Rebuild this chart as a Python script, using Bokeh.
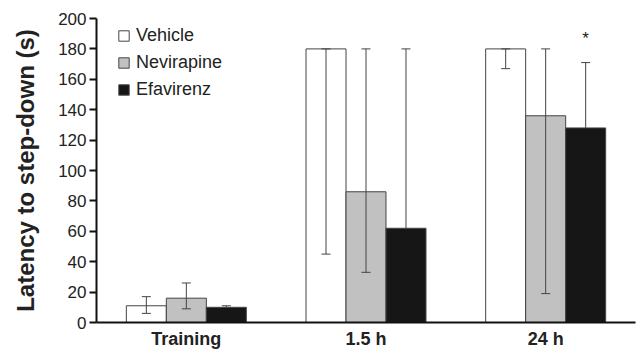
from bokeh.plotting import figure
from bokeh.models import (ColumnDataSource, FactorRange, Whisker, TeeHead,
                          Legend, LegendItem, FixedTicker)
from bokeh.transform import dodge
from bokeh.core.properties import value
from bokeh.embed import file_html
from bokeh.resources import INLINE

# ---- data ----
groups = ["Training", "1.5 h", "24 h"]
vehicle = [11, 180, 180]
vehicle_lo = [6, 45, 167]
vehicle_hi = [17, 180, 180]
nevirapine = [16, 86, 136]
nevirapine_lo = [9, 33, 19]
nevirapine_hi = [26, 180, 180]
efavirenz = [10, 62, 128]
efavirenz_lo = [10, 62, 128]
efavirenz_hi = [11, 180, 171]
y_ticks = [0, 20, 40, 60, 80, 100, 120, 140, 160, 180, 200]
star_groups = ["24 h"]
star_y = [187]
star_text = ["*"]

FONT = "Liberation Sans"
BW = 0.2226

src = ColumnDataSource(dict(
    group=groups,
    vehicle=vehicle, vehicle_lo=vehicle_lo, vehicle_hi=vehicle_hi,
    nevirapine=nevirapine, nevirapine_lo=nevirapine_lo, nevirapine_hi=nevirapine_hi,
    efavirenz=efavirenz, efavirenz_lo=efavirenz_lo, efavirenz_hi=efavirenz_hi,
))
star_src = ColumnDataSource(dict(group=star_groups, y=star_y, text=star_text))

p = figure(x_range=FactorRange(*groups), y_range=(0, 200),
           width=636, height=351, output_backend="svg", toolbar_location=None,
           min_border_left=96, min_border_right=1, min_border_top=18,
           min_border_bottom=28)
p.outline_line_color = None
p.xgrid.grid_line_color = None
p.ygrid.grid_line_color = None
p.background_fill_color = "white"
p.border_fill_color = "white"

series = [
    ("Vehicle", "vehicle", -BW, "white"),
    ("Nevirapine", "nevirapine", 0.0, "#c0c1c0"),
    ("Efavirenz", "efavirenz", BW, "#161616"),
]
items = []
for label, key, off, color in series:
    r = p.vbar(x=dodge("group", off, range=p.x_range), top=key, width=BW,
               source=src, fill_color=color, line_color="#444444", line_width=1)
    items.append(LegendItem(label=label, renderers=[r]))

for label, key, off, color in series:
    lower_head = TeeHead(size=9, line_color="#444444", line_width=1)
    if key == "efavirenz":
        lower_head = None
    w = Whisker(base=dodge("group", off, range=p.x_range), upper=key + "_hi",
                lower=key + "_lo", source=src, dimension="height",
                line_color="#444444", line_width=1, level="overlay",
                upper_head=TeeHead(size=9, line_color="#444444", line_width=1),
                lower_head=lower_head)
    p.add_layout(w)

p.text(x=dodge("group", BW, range=p.x_range), y="y", text="text", source=star_src,
       text_align="center", text_baseline="middle", text_font=value(FONT),
       text_font_size="17px", text_color="#222222")

legend = Legend(items=items, location=(21, 222), margin=0, padding=0,
                spacing=5, glyph_width=13, glyph_height=13, label_height=22,
                label_standoff=6, label_text_font=FONT,
                label_text_font_size="18px", label_text_color="#222222",
                border_line_color=None, background_fill_alpha=0)
p.add_layout(legend)

# axes
p.yaxis.ticker = FixedTicker(ticks=y_ticks)
p.yaxis.axis_line_width = 2
p.yaxis.axis_line_color = "#111111"
p.yaxis.major_tick_line_width = 2
p.yaxis.major_tick_line_color = "#111111"
p.yaxis.major_tick_out = 7
p.yaxis.major_tick_in = 0
p.yaxis.minor_tick_line_color = None
p.yaxis.major_label_standoff = 3
p.yaxis.major_label_text_font = FONT
p.yaxis.major_label_text_font_size = "17px"
p.yaxis.major_label_text_color = "#222222"
p.yaxis.axis_label = "Latency to step-down (s)"
p.yaxis.axis_label_text_font = FONT
p.yaxis.axis_label_text_font_style = "bold"
p.yaxis.axis_label_text_font_size = "24px"
p.yaxis.axis_label_text_color = "#222222"
p.yaxis.axis_label_standoff = 16

p.xaxis.axis_line_width = 2
p.xaxis.axis_line_color = "#111111"
p.xaxis.major_tick_line_color = None
p.xaxis.major_tick_out = 0
p.xaxis.minor_tick_line_color = None
p.xaxis.major_label_standoff = 6
p.xaxis.major_label_text_font = FONT
p.xaxis.major_label_text_font_style = "bold"
p.xaxis.major_label_text_font_size = "18px"
p.xaxis.major_label_text_color = "#222222"

open("out.html", "w").write(file_html(p, INLINE))
